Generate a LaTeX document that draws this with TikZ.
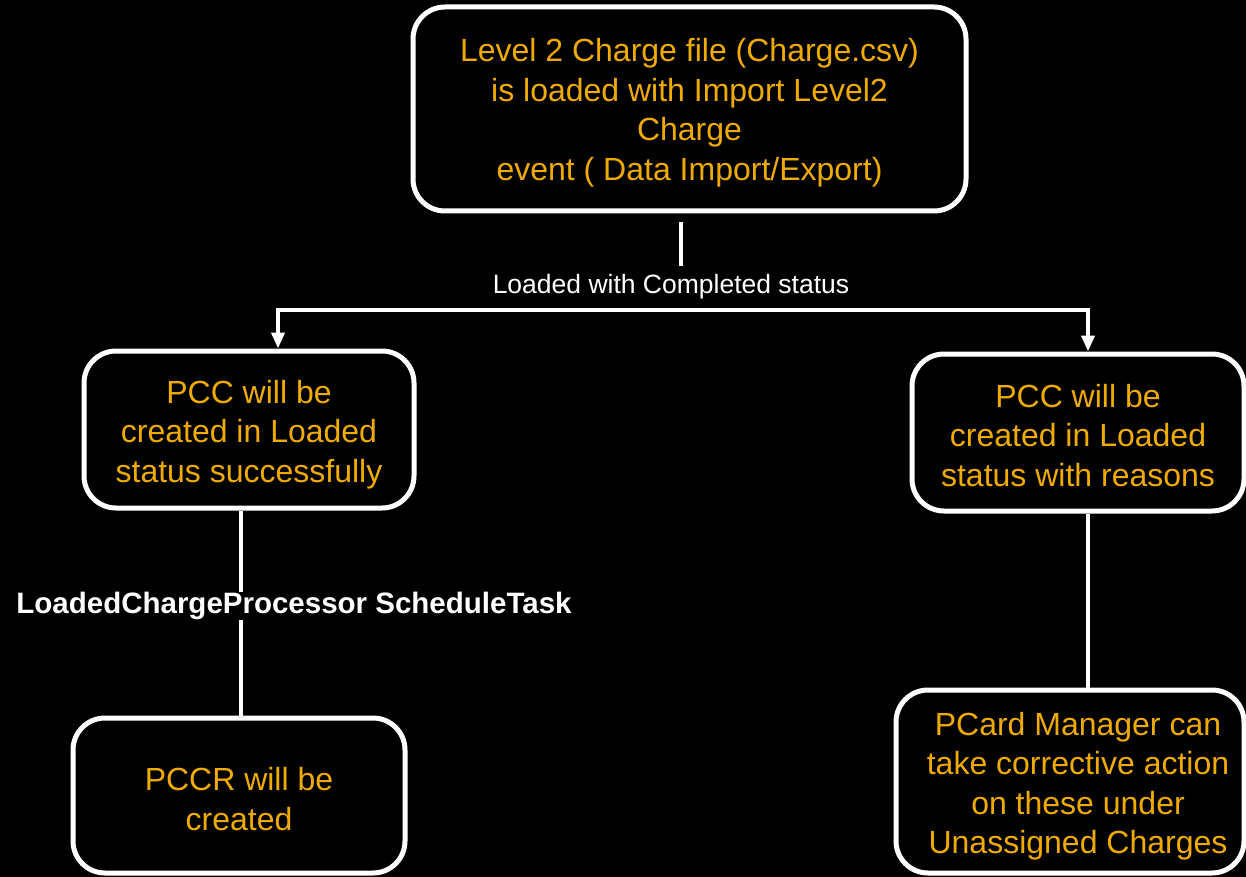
\documentclass[tikz,border=0pt]{standalone}
\usepackage{fontspec}
\setmainfont{Liberation Sans}
\usetikzlibrary{arrows.meta}
\definecolor{txtor}{RGB}{240,171,0}
\newcommand{\tstr}[1]{\rule{0pt}{#1pt}}
\begin{document}
\begin{tikzpicture}[x=1pt,y=-1pt,
  box/.style={draw=white, line width=5pt, rounded corners=32pt, fill=black, text=txtor, align=center,
    font=\fontsize{32}{39.5}\selectfont, inner sep=0pt},
  conn/.style={draw=white, line width=4pt},
  arr/.style={conn, -{Triangle[length=16pt,width=13pt]}},
  lbl/.style={text=white, inner sep=2pt}]
\fill[black] (0,0) rectangle (1246,877);
\path[use as bounding box] (0,0) rectangle (1246,877);

\node[box, minimum width=553pt, minimum height=204pt] (top) at (689.5,109)
  {\tstr{31}Level 2 Charge file (Charge.csv)\\is loaded with Import Level2\\Charge\\event ( Data Import/Export)};
\node[box, minimum width=330pt, minimum height=157pt] (b2) at (249,429.5)
  {\tstr{33}PCC will be\\created in Loaded\\status successfully};
\node[box, minimum width=332pt, minimum height=157pt] (b3) at (1078,432.5)
  {\tstr{29}PCC will be\\created in Loaded\\status with reasons};
\node[box, minimum width=332pt, minimum height=155pt] (b4) at (239,795.5)
  {\tstr{30}PCCR will be\\created};
\node[box, minimum width=348pt, minimum height=183pt] (b5) at (1070,781.5)
  {\tstr{33}\hspace*{16pt}PCard Manager can\\\hspace*{16pt}take corrective action\\\hspace*{16pt}on these under\\\hspace*{16pt}Unassigned Charges};

\coordinate (v1) at (681,222);
\coordinate (v2) at (681,266);
\coordinate (hl) at (278,310);
\coordinate (hr) at (1088,310);
\coordinate (lx) at (241,0);

\draw[conn] (v1) -- (v2);
\node[lbl, font=\fontsize{26.5}{30}\selectfont] (l1) at (671,287) {Loaded with Completed status};
\draw[conn, line cap=rect] (hl) -- (hr);
\draw[arr] (hl) -- (hl |- b2.north);
\draw[arr] (hr) -- (hr |- b3.north);

\draw[conn] (lx |- b2.south) -- (lx |- b4.north);
\node[lbl, fill=black, inner sep=0pt, font=\bfseries\fontsize{29.5}{32}\selectfont] (l2) at (294,606) {LoadedChargeProcessor ScheduleTask};

\draw[conn] (hr |- b3.south) -- (hr |- b5.north);
\end{tikzpicture}
\end{document}
